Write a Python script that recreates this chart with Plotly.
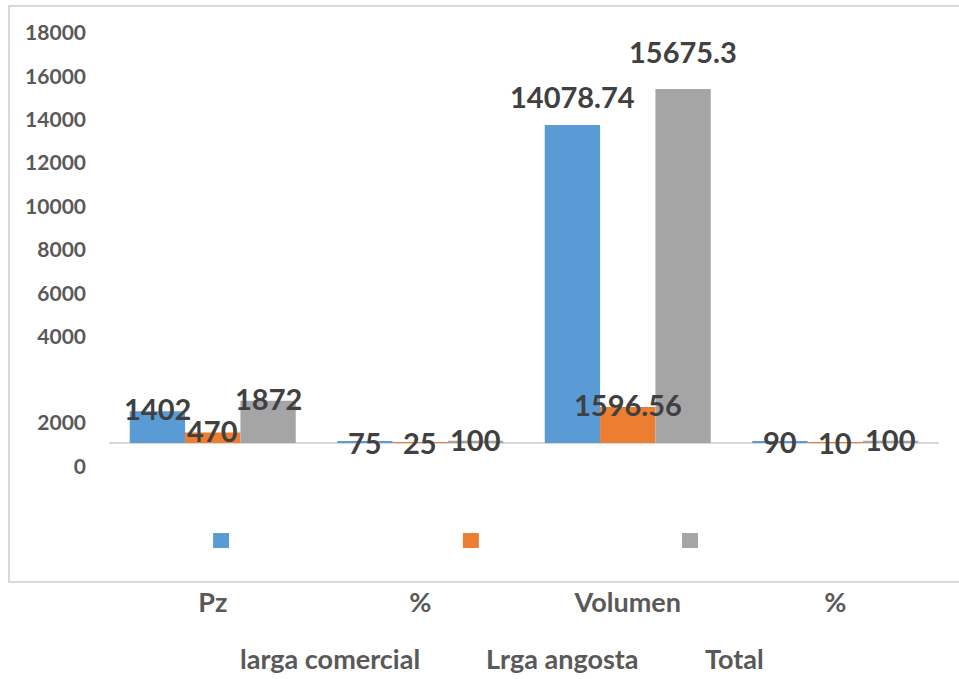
import plotly.graph_objects as go

# Categories on the x axis ("%" appears twice, so a numeric axis with tick text is used)
categories = ["Pz", "%", "Volumen", "%"]

# Series values
series_names = ["larga comercial", "Lrga angosta", "Total"]
larga_comercial = [1402, 75, 14078.74, 90]
lrga_angosta = [470, 25, 1596.56, 10]
total = [1872, 100, 15675.3, 100]
series_values = [larga_comercial, lrga_angosta, total]
series_colors = ["#5B9BD5", "#ED7D31", "#A5A5A5"]

# Value-axis labels and where they sit on the axis
ytick_text = ["18000", "16000", "14000", "12000", "10000", "8000", "6000", "4000", "2000", "0"]
ytick_pos = [18150, 16200, 14300, 12395, 10450, 8545, 6600, 4690, 885, -1060]

# Vertical lift (px) of each data label above its bar top
label_lift = [
    [3, -1, 28, -1],
    [2, 0, 2, 0],
    [2, 1, 37, 1],
]

FONT = "Lato, 'Open Sans', sans-serif"
LABEL_COLOR = "#404040"
AXIS_COLOR = "#595959"

xs = list(range(len(categories)))
bargap = 0.2
bar_w = (1 - bargap) / len(series_values)

fig = go.Figure()
for name, vals, col in zip(series_names, series_values, series_colors):
    fig.add_trace(go.Bar(x=xs, y=vals, name=name, marker=dict(color=col, line=dict(width=0)),
                         showlegend=False))

annotations = []
for k, (vals, lifts) in enumerate(zip(series_values, label_lift)):
    off = (k - (len(series_values) - 1) / 2) * bar_w
    for i, (v, lift) in enumerate(zip(vals, lifts)):
        annotations.append(dict(
            x=i + off, y=v, xref="x", yref="y", text=str(v), showarrow=False,
            yanchor="middle", xanchor="center", yshift=lift,
            font=dict(family=FONT, size=29, color=LABEL_COLOR, weight="bold"),
        ))

# Legend: colour keys in the plot area, names in a row underneath the axis labels
legend_key_x = [0.135, 0.436, 0.700]
legend_text_x = [0.266, 0.546, 0.754]
shapes = []
for kx, col in zip(legend_key_x, series_colors):
    shapes.append(dict(type="rect", xref="paper", yref="paper",
                       x0=kx - 0.0096, x1=kx + 0.0096, y0=0.059, y1=0.085,
                       fillcolor=col, line=dict(width=0)))
for tx, name in zip(legend_text_x, series_names):
    annotations.append(dict(x=tx, y=-0.132, xref="paper", yref="paper", text=name,
                            showarrow=False, xanchor="center", yanchor="middle",
                            font=dict(family=FONT, size=27, color=AXIS_COLOR, weight="bold")))

# Chart border
shapes.append(dict(type="rect", xref="paper", yref="paper", x0=-0.1205, x1=1.05, y0=0, y1=1,
                   line=dict(color="#D9D9D9", width=2), fillcolor="rgba(0,0,0,0)", layer="below"))

fig.update_layout(
    width=959, height=679,
    margin=dict(l=109, r=20, t=6, b=97),
    paper_bgcolor="white", plot_bgcolor="white",
    barmode="group", bargap=bargap, bargroupgap=0,
    annotations=annotations, shapes=shapes,
    xaxis=dict(range=[-0.5, 3.5], tickvals=xs, ticktext=categories, showgrid=False,
               showline=False, zeroline=False, ticks="", ticklabelstandoff=2,
               tickfont=dict(family=FONT, size=27, color=AXIS_COLOR, weight="bold")),
    yaxis=dict(range=[-6153, 19345], tickvals=ytick_pos, ticktext=ytick_text, showgrid=False,
               showline=False, zeroline=True, zerolinecolor="#D9D9D9", zerolinewidth=2,
               ticks="", ticklabelstandoff=22,
               tickfont=dict(family=FONT, size=21, color=AXIS_COLOR, weight="bold")),
)

fig.write_html("out.html")
